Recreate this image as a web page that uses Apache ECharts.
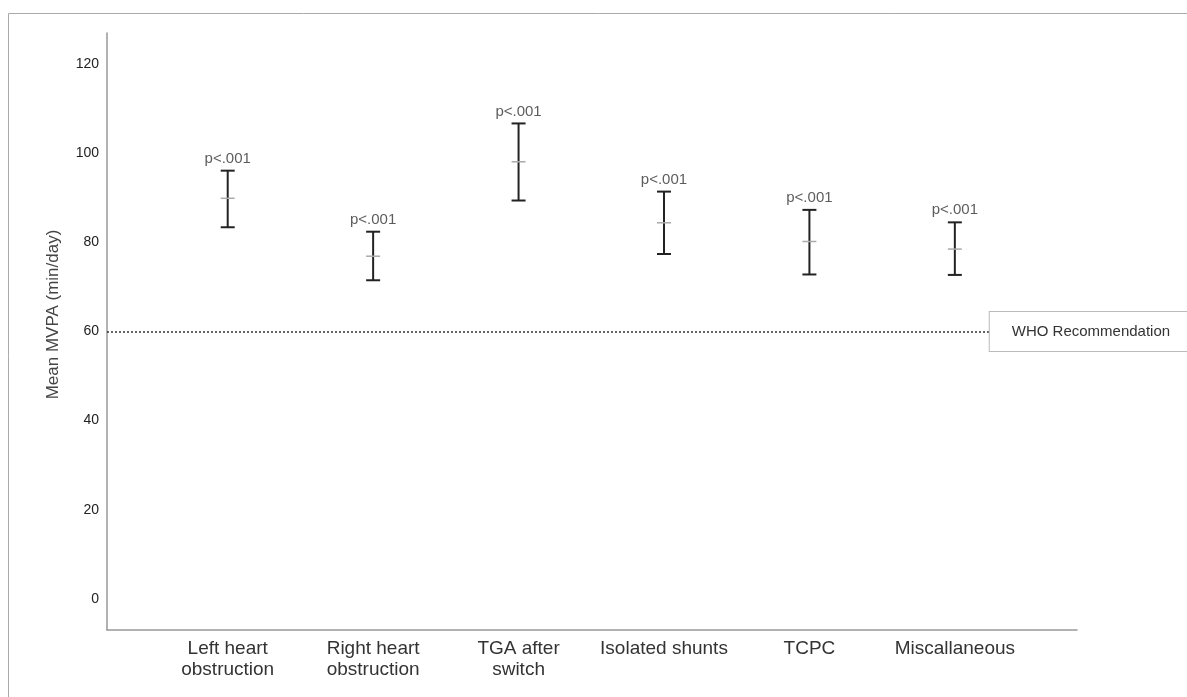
<!DOCTYPE html>
<html>
<head>
<meta charset="utf-8">
<script src="https://cdn.jsdelivr.net/npm/echarts@6/dist/echarts.min.js"></script>
<style>
html, body { margin: 0; padding: 0; background: #fff; }
#chart { width: 1187px; height: 697px; }
</style>
</head>
<body>
<div id="chart"></div>
<script>
// groups on the x axis (spelling as in the figure)
var categories = ['Left heart\nobstruction', 'Right heart\nobstruction', 'TGA after\nswitch', 'Isolated shunts', 'TCPC', 'Miscallaneous']
// mean MVPA and 95% CI bounds, min/day
var meanValues = [89.9, 76.9, 98.1, 84.4, 80.2, 78.5]
var lowerCI = [83.4, 71.5, 89.4, 77.4, 72.8, 72.7]
var upperCI = [96.1, 82.4, 106.7, 91.4, 87.3, 84.5]
var pLabels = ['p<.001', 'p<.001', 'p<.001', 'p<.001', 'p<.001', 'p<.001']
var yTicks = [0, 20, 40, 60, 80, 100, 120]
var whoLevel = 60

// layout of the x range (category index units)
var xMin = -0.83
var xMax = 5.84
var whoLineEnd = 5.24

var barData = []
var pData = []
var xTicks = []
for (var i = 0; i < categories.length; i++) {
  barData.push([i, lowerCI[i], upperCI[i], meanValues[i]])
  pData.push([i, upperCI[i]])
  xTicks.push(i)
}

var myChart = echarts.init(document.getElementById('chart'))
var option = {
  backgroundColor: '#fff',
  animation: false,
  textStyle: { fontFamily: 'Liberation Sans, Arial, sans-serif' },
  graphic: [{
    type: 'rect',
    z: -10,
    shape: { x: 8.5, y: 13.5, width: 1300, height: 800 },
    style: { fill: null, stroke: '#aaa', lineWidth: 1 }
  }],
  grid: {
    left: 107,
    right: 110,
    top: 33,
    bottom: 67,
    outerBoundsMode: 'none'
  },
  xAxis: {
    type: 'value',
    min: xMin,
    max: xMax,
    axisLine: { show: true, onZero: false, lineStyle: { color: '#999', width: 1.5 } },
    axisTick: { show: false },
    splitLine: { show: false },
    axisLabel: {
      customValues: xTicks,
      formatter: function (v) { return categories[Math.round(v)] },
      color: '#333',
      fontSize: 19,
      lineHeight: 21,
      margin: 8
    }
  },
  yAxis: {
    type: 'value',
    min: -7,
    max: 127,
    name: 'Mean MVPA (min/day)',
    nameLocation: 'middle',
    nameGap: 45,
    nameTextStyle: { color: '#444', fontSize: 17, padding: [0, 0, 0, 34] },
    axisLine: { show: true, onZero: false, lineStyle: { color: '#999', width: 1.5 } },
    axisTick: { show: false },
    splitLine: { show: false },
    axisLabel: {
      customValues: yTicks,
      color: '#222',
      fontSize: 14,
      margin: 8
    }
  },
  series: [
    {
      type: 'custom',
      data: barData,
      encode: { x: 0, y: [1, 2, 3] },
      renderItem: function (params, api) {
        var x = api.value(0)
        var lo = api.coord([x, api.value(1)])
        var hi = api.coord([x, api.value(2)])
        var mid = api.coord([x, api.value(3)])
        var cap = 7
        var dark = { stroke: '#222', lineWidth: 2 }
        return {
          type: 'group',
          children: [
            { type: 'line', shape: { x1: hi[0], y1: hi[1], x2: lo[0], y2: lo[1] }, style: dark },
            { type: 'line', shape: { x1: hi[0] - cap, y1: hi[1], x2: hi[0] + cap, y2: hi[1] }, style: dark },
            { type: 'line', shape: { x1: lo[0] - cap, y1: lo[1], x2: lo[0] + cap, y2: lo[1] }, style: dark },
            { type: 'line', shape: { x1: mid[0] - 7, y1: mid[1], x2: mid[0] + 7, y2: mid[1] }, style: { stroke: '#aaa', lineWidth: 1.5 } }
          ]
        }
      }
    },
    {
      type: 'scatter',
      data: pData,
      symbolSize: 1,
      itemStyle: { color: 'rgba(0,0,0,0)' },
      label: {
        show: true,
        position: 'top',
        distance: 4,
        color: '#333',
        fontSize: 15,
        formatter: function (p) { return pLabels[p.dataIndex] }
      },
      markLine: {
        silent: true,
        symbol: ['none', 'none'],
        lineStyle: { color: '#333', type: [2, 2], width: 1.5 },
        label: {
          show: true,
          position: 'end',
          distance: 0,
          formatter: 'WHO Recommendation',
          color: '#333',
          fontSize: 15,
          backgroundColor: '#fff',
          borderColor: '#bbb',
          borderWidth: 1,
          padding: [12, 22, 12, 22]
        },
        data: [[{ coord: [xMin, whoLevel] }, { coord: [whoLineEnd, whoLevel] }]]
      }
    }
  ]
}
myChart.setOption(option)
</script>
</body>
</html>
